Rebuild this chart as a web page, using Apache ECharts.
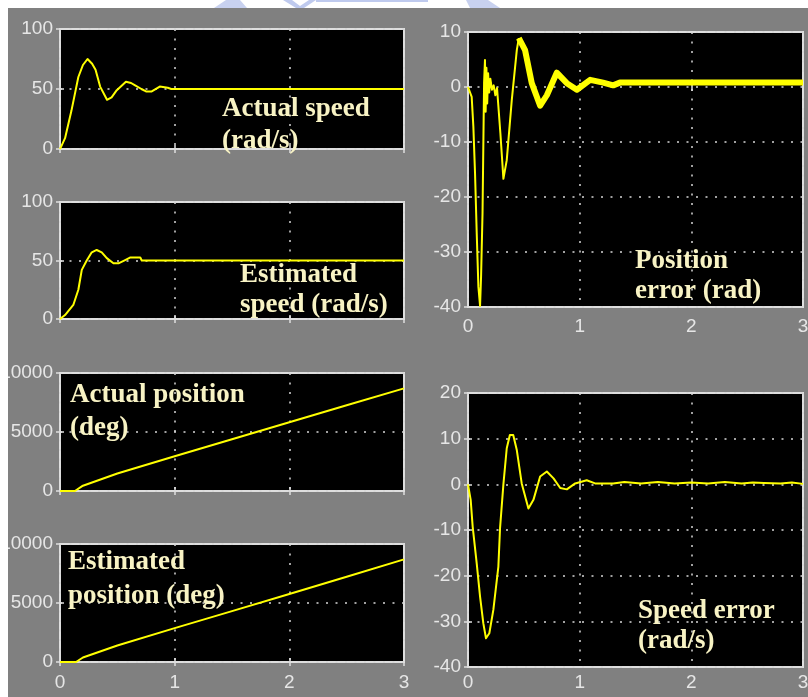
<!DOCTYPE html>
<html>
<head>
<meta charset="utf-8">
<script src="https://cdn.jsdelivr.net/npm/echarts@6/dist/echarts.min.js"></script>
<style>
  html, body { margin: 0; padding: 0; background: #ffffff; overflow: hidden; }
  #scope { width: 808px; height: 697px; }
</style>
</head>
<body>
<div id="scope"></div>
<script>
// ---- tick labels ----
const timeTicks = ['0', '1', '2', '3'];
const speedTicks = ['0', '50', '100'];
const positionTicks = ['0', '5000', '10000'];
const posErrTicks = ['-40', '-30', '-20', '-10', '0', '10'];
const speedErrTicks = ['-40', '-30', '-20', '-10', '0', '10', '20'];

// ---- traces: [time (s), value] ----
const speedActual = [[0,0],[0.01,2],[0.044,9],[0.1,32],[0.16,60],[0.2,70],[0.24,75],[0.28,71],
  [0.31,66],[0.35,52],[0.41,41],[0.45,43],[0.495,49],[0.575,56],[0.62,55],[0.655,53],[0.71,50],
  [0.75,48],[0.8,48],[0.87,52],[0.94,51],[0.97,50],[3,50]];

const speedEstimated = [[0,0],[0.01,1],[0.044,3.4],[0.116,12],[0.16,25],[0.19,42],[0.233,50],
  [0.277,57],[0.32,59],[0.364,57],[0.408,52],[0.466,47.6],[0.51,47.6],[0.568,50.4],[0.61,52.5],
  [0.7,52.5],[0.713,50],[3,50]];

const positionActual = [[0,0],[0.13,0],[0.2,450],[0.5,1480],[1,2950],[1.5,4390],[2,5820],
  [2.5,7260],[3,8700]];

const positionEstimated = [[0,0],[0.14,0],[0.2,380],[0.5,1400],[1,2870],[1.5,4310],[2,5760],
  [2.5,7230],[3,8700]];

// position error: fast initial transient, then the settling oscillation
const posErrTransient = [[0,0],[0.01,0],[0.033,-1.8],[0.048,-7.2],[0.063,-15.7],[0.078,-26.5],
  [0.093,-36.3],[0.108,-39.8],[0.117,-34.5],[0.13,-23],[0.144,0.7],[0.152,4.9],[0.158,-4.5],
  [0.165,3.5],[0.172,-3],[0.18,2.5],[0.19,-1],[0.2,1.5],[0.215,-0.5],[0.23,0.3],[0.245,-1.5],
  [0.26,-0.2],[0.29,-8.4],[0.317,-16.7],[0.347,-13.3],[0.392,-2.4],[0.437,6.7],[0.455,8.9]];

const posErrSettling = [[0.455,8.9],[0.511,6.7],[0.571,0.7],[0.646,-3.4],[0.706,-1.5],
  [0.795,2.6],[0.885,0.7],[0.975,-0.5],[1.094,1.3],[1.21,0.8],[1.3,0.3],[1.36,0.8],[3,0.8]];

const speedError = [[0,0],[0.01,0.2],[0.024,-3.4],[0.042,-9.3],[0.078,-17.3],[0.108,-24.6],
  [0.137,-30.4],[0.161,-33.7],[0.191,-32.6],[0.227,-27.5],[0.272,-18],[0.287,-9.6],[0.317,0],
  [0.347,7.9],[0.375,10.8],[0.405,10.8],[0.437,7.5],[0.481,0.2],[0.541,-5.3],[0.586,-3.4],
  [0.646,1.7],[0.706,2.8],[0.766,1.3],[0.826,-0.8],[0.885,-1.1],[0.96,0.2],[1.063,0.9],
  [1.138,0.2],[1.3,0.2],[1.4,0.5],[1.55,0.2],[1.7,0.5],[1.85,0.2],[2.0,0.4],[2.15,0.2],
  [2.3,0.5],[2.45,0.2],[2.55,0.4],[2.65,0.3],[2.8,0.2],[2.9,0.4],[3,0.1]];

// ---- scope panels ----
const panels = [
  { box: [60, 29, 344, 120], y: [0, 100, 50], yTicks: speedTicks, xLabels: false,
    traces: [{ data: speedActual, width: 2 }] },
  { box: [60, 202, 344, 117], y: [0, 100, 50], yTicks: speedTicks, xLabels: false,
    traces: [{ data: speedEstimated, width: 2 }] },
  { box: [60, 373, 344, 118], y: [0, 10000, 5000], yTicks: positionTicks, xLabels: false,
    traces: [{ data: positionActual, width: 2 }] },
  { box: [60, 544, 344, 118], y: [0, 10000, 5000], yTicks: positionTicks, xLabels: true, xMargin: 11,
    traces: [{ data: positionEstimated, width: 2 }] },
  { box: [468, 32, 335, 275], y: [-40, 10, 10], yTicks: posErrTicks, xLabels: true, xMargin: 10,
    traces: [{ data: posErrTransient, width: 2 }, { data: posErrSettling, width: 6 }] },
  { box: [468, 393, 335, 274], y: [-40, 20, 10], yTicks: speedErrTicks, xLabels: true, xMargin: 6,
    traces: [{ data: speedError, width: 2 }] }
];

const FRAME = '#dedede';
const LABEL = '#e6e6e6';
const TICK_FONT = "'Liberation Sans', Arial, sans-serif";
const TEXT_FONT = "bold 27px 'Liberation Serif', 'Times New Roman', serif";
const TEXT_FILL = '#f8f3c4';

const grid = [], xAxis = [], yAxis = [], series = [];

panels.forEach((p, i) => {
  const [left, top, width, height] = p.box;
  grid.push({ left, top, width, height, show: true, backgroundColor: '#000000',
    borderColor: FRAME, borderWidth: 2, containLabel: false, outerBoundsMode: 'none' });

  const tick = { show: true, inside: true, length: 4, lineStyle: { color: FRAME, width: 1.5 } };
  const dotted = { show: true, lineStyle: { color: '#d6d6d6', width: 1.5, type: [2, 7.5] } };
  const labelStyle = { color: LABEL, fontFamily: TICK_FONT, fontSize: 19 };

  xAxis.push({ gridIndex: i, type: 'value', min: 0, max: 3, interval: 1,
    axisLine: { show: false }, axisTick: tick, splitLine: dotted,
    axisLabel: Object.assign({ show: p.xLabels, margin: p.xMargin || 10,
      formatter: v => timeTicks[Math.round(v)] }, labelStyle) });
  xAxis.push({ gridIndex: i, type: 'value', position: 'top', min: 0, max: 3, interval: 1,
    axisLine: { show: false }, axisTick: tick, splitLine: { show: false }, axisLabel: { show: false } });

  const [yMin, yMax, yStep] = p.y;
  yAxis.push({ gridIndex: i, type: 'value', min: yMin, max: yMax, interval: yStep,
    axisLine: { show: false }, axisTick: tick, splitLine: dotted,
    axisLabel: Object.assign({ margin: 7, formatter: (v, idx) => p.yTicks[idx] }, labelStyle) });
  yAxis.push({ gridIndex: i, type: 'value', position: 'right', min: yMin, max: yMax, interval: yStep,
    axisLine: { show: false }, axisTick: tick, splitLine: { show: false }, axisLabel: { show: false } });

  p.traces.forEach(t => {
    series.push({ type: 'line', xAxisIndex: 2 * i, yAxisIndex: 2 * i, data: t.data,
      showSymbol: false, symbol: 'none', silent: true, clip: true,
      lineStyle: { color: '#ffff00', width: t.width, join: 'round' } });
  });
});

// signal names written inside the scope panels
const captions = [
  ['Actual speed', 222, 109], ['(rad/s)', 222, 141],
  ['Estimated', 240, 275], ['speed (rad/s)', 240, 305],
  ['Actual position', 70, 395], ['(deg)', 70, 428],
  ['Estimated', 68, 562], ['position (deg)', 68, 596],
  ['Position', 635, 261], ['error (rad)', 635, 291],
  ['Speed error', 638, 611], ['(rad/s)', 638, 641]
];

const graphic = [
  // white page margin above and left of the scope window
  { type: 'rect', z: 100, zlevel: 1, shape: { x: 0, y: 0, width: 808, height: 8 }, style: { fill: '#ffffff' } },
  { type: 'rect', z: 100, zlevel: 1, shape: { x: 0, y: 0, width: 8, height: 697 }, style: { fill: '#ffffff' } },
  // faint emblem peeking in at the top edge
  { type: 'polygon', z: 101, zlevel: 1, shape: { points: [[214, 8], [226, 0], [240, 0], [247, 8]] }, style: { fill: '#c8d1ef' } },
  { type: 'polygon', z: 101, zlevel: 1, shape: { points: [[283, 0], [292, 0], [300, 6], [309, 0], [316, 0], [304, 8], [296, 8]] }, style: { fill: '#bfcaee' } },
  { type: 'rect', z: 101, zlevel: 1, shape: { x: 316, y: 0, width: 112, height: 2 }, style: { fill: '#bfcaee' } },
  { type: 'polygon', z: 101, zlevel: 1, shape: { points: [[466, 0], [488, 0], [500, 8], [470, 8]] }, style: { fill: '#c8d1ef' } }
];
captions.forEach(([text, x, y]) => {
  graphic.push({ type: 'text', z: 60, x, y,
    style: { text, font: TEXT_FONT, fill: TEXT_FILL, align: 'left', verticalAlign: 'middle' } });
});

const chart = echarts.init(document.getElementById('scope'), null, { renderer: 'canvas' });
chart.setOption({
  animation: false,
  backgroundColor: '#808080',
  grid, xAxis, yAxis, series, graphic
});
</script>
</body>
</html>
